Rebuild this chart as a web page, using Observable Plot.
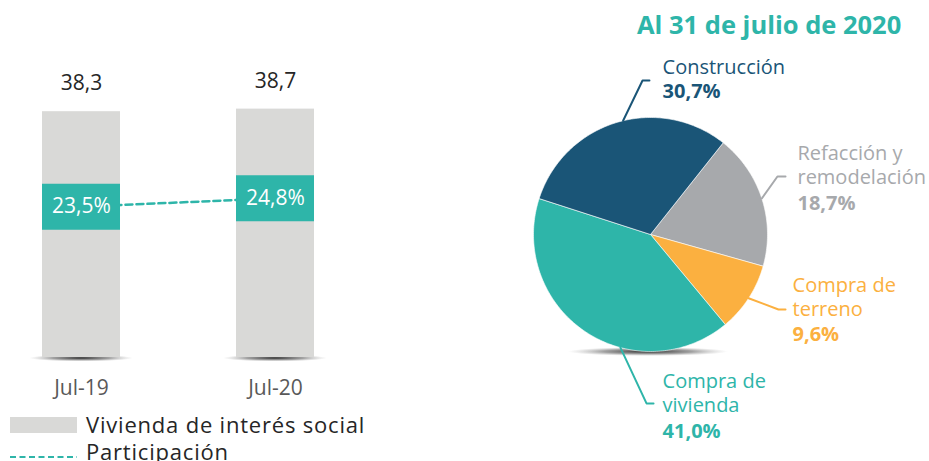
<!DOCTYPE html>
<html><head><meta charset="utf-8">
<script src="https://cdn.jsdelivr.net/npm/d3@7"></script>
<script src="https://cdn.jsdelivr.net/npm/@observablehq/plot@0.6"></script>
<style>
body{margin:0;background:#fff;font-family:"Open Sans",sans-serif;}
#wrap{position:relative;width:929px;height:461px;overflow:hidden;background:#fff;}
#left{position:absolute;left:0;top:0;}
#pie{position:absolute;left:500px;top:40px;}
#title{position:absolute;left:637px;top:9px;line-height:30px;font-size:25.5px;font-weight:700;color:#2eb5a9;white-space:nowrap;}
.leg{position:absolute;left:86px;font-size:22px;color:#262626;letter-spacing:0.8px;white-space:nowrap;line-height:30px;}
#sw1{position:absolute;left:10px;top:417px;width:67px;height:16px;background:#d9d9d7;}
#sw2{position:absolute;left:10px;top:452px;}
</style></head><body>
<div id="wrap">
  <div id="left"></div>
  <div id="sw1"></div>
  <div class="leg" style="top:409px">Vivienda de interés social</div>
  <svg id="sw2" width="70" height="10"><line x1="0" x2="67" y1="5" y2="5" stroke="#2eb5a9" stroke-width="2" stroke-dasharray="6,3.5"/></svg>
  <div class="leg" style="top:436px">Participación</div>
  <div id="title">Al 31 de julio de 2020</div>
  <div id="pie"></div>
</div>
<script>
// ---- data ----
const periods = ["Jul-19", "Jul-20"];
const totals = [38.3, 38.7];
const shares = [23.5, 24.8];
const totalLabels = ["38,3", "38,7"];
const shareLabels = ["23,5%", "24,8%"];

const pieNames = ["Refacción y\nremodelación", "Compra de\nterreno", "Compra de\nvivienda", "Construcción"];
const pieValues = [18.7, 9.6, 41.0, 30.7];
const pieLabels = ["18,7%", "9,6%", "41,0%", "30,7%"];
const pieColors = ["#a7a9ac", "#fbb040", "#2eb5a9", "#1a5577"];

const teal = "#2eb5a9";

// ---- shadow helper (render-function mark using Plot scales) ----
let gradCount = 0;
function shadowMark(getEllipses) {
  return (index, scales) => {
    const id = "shadowGrad" + (gradCount++);
    const g = d3.create("svg:g");
    const grad = g.append("defs").append("radialGradient").attr("id", id);
    grad.append("stop").attr("offset", "0%").attr("stop-color", "#222").attr("stop-opacity", 0.95);
    grad.append("stop").attr("offset", "55%").attr("stop-color", "#555").attr("stop-opacity", 0.55);
    grad.append("stop").attr("offset", "100%").attr("stop-color", "#999").attr("stop-opacity", 0);
    for (const e of getEllipses(scales)) {
      g.append("ellipse").attr("cx", e.cx).attr("cy", e.cy).attr("rx", e.rx).attr("ry", e.ry)
        .attr("fill", `url(#${id})`);
    }
    return g.node();
  };
}

// ---- left chart ----
const barData = periods.map((p, i) => ({p, total: totals[i], share: shares[i], tl: totalLabels[i], sl: shareLabels[i]}));

const left = Plot.plot({
  width: 370, height: 400,
  marginLeft: 3.2, marginRight: 17.2, marginTop: 4, marginBottom: 43,
  style: {color: "#595959", fontFamily: "Open Sans", background: "transparent", overflow: "visible"},
  x: {domain: periods, paddingInner: 0.598, paddingOuter: 0.2},
  y: {domain: [0, 55], axis: null},
  marks: [
    shadowMark(s => periods.map(p => ({
      cx: s.x(p) + (s.x.bandwidth ? s.x.bandwidth() / 2 : 39),
      cy: s.y(0) + 1, rx: 52, ry: 3.5
    }))),
    Plot.barY(barData, {x: "p", y: "total", fill: "#d9d9d7"}),
    Plot.line(barData, {x: "p", y: "share", stroke: teal, strokeWidth: 2.5, strokeDasharray: "7,4"}),
    Plot.tickY(barData, {x: "p", y: "share", stroke: teal, strokeWidth: 46}),
    Plot.text(barData, {x: "p", y: "share", text: "sl", fill: "white", fontSize: 21}),
    Plot.text(barData, {x: "p", y: "total", text: "tl", dy: -28, fill: "#262626", fontSize: 21}),
    Plot.axisX({tickSize: 0, tickPadding: 23, fontSize: 21, color: "#595959", label: null})
  ]
});
document.getElementById("left").appendChild(left);

// ---- pie chart ----
const startDeg = 38.4;
const pieTotal = d3.sum(pieValues);
let acc = startDeg;
const slices = pieValues.map((v, i) => {
  const a0 = acc, a1 = acc + v / pieTotal * 360;
  acc = a1;
  const pts = [{x: 0, y: 0}];
  const n = Math.max(2, Math.ceil(a1 - a0));
  for (let k = 0; k <= n; k++) {
    const a = (a0 + (a1 - a0) * k / n) * Math.PI / 180;
    pts.push({x: Math.sin(a), y: Math.cos(a)});
  }
  pts.push({x: 0, y: 0});
  return {i, a0, a1, pts};
});

// label layout (in pie-radius units)
const labelLayout = [
  {frac: 0.5,  elbow: [1.085, 0.496],   end: [1.154, 0.496],   tx: 1.256, nameY: 0.598,  pctY: 0.262},
  {frac: 0.5,  elbow: [1.094, -0.641],  end: [1.154, -0.641],  tx: 1.214, nameY: -0.526, pctY: -0.855},
  {frac: 0.37, elbow: [-0.034, -1.444], end: [0.026, -1.444],  tx: 0.103, nameY: -1.350, pctY: -1.684},
  {frac: 0.53, elbow: [-0.068, 1.316],  end: [-0.009, 1.316],  tx: 0.103, nameY: 1.436,  pctY: 1.222}
];

const pieMarks = [
  shadowMark(s => [{cx: s.x(0) - 2, cy: s.y(-1) + 0.5, rx: 80, ry: 4.5}])
];
slices.forEach((sl, i) => {
  pieMarks.push(Plot.line(sl.pts, {x: "x", y: "y", fill: pieColors[i], stroke: "white", strokeWidth: 0.6}));
});
slices.forEach((sl, i) => {
  const L = labelLayout[i];
  const a = (sl.a0 + (sl.a1 - sl.a0) * L.frac) * Math.PI / 180;
  const leader = [{x: Math.sin(a), y: Math.cos(a)}, {x: L.elbow[0], y: L.elbow[1]}, {x: L.end[0], y: L.end[1]}];
  pieMarks.push(Plot.line(leader, {x: "x", y: "y", stroke: pieColors[i], strokeWidth: 2}));
  pieMarks.push(Plot.text([pieNames[i]], {x: () => L.tx, y: () => L.nameY, text: d => d, textAnchor: "start",
    fill: pieColors[i], fontSize: 20, lineHeight: 1.2}));
  pieMarks.push(Plot.text([pieLabels[i]], {x: () => L.tx, y: () => L.pctY, text: d => d, textAnchor: "start",
    fill: pieColors[i], fontSize: 20, fontWeight: 700}));
});

const pie = Plot.plot({
  width: 429, height: 421,
  style: {fontFamily: "Open Sans", background: "transparent", overflow: "visible"},
  x: {domain: [-1, 1], range: [33, 267], axis: null},
  y: {domain: [-1, 1], range: [311, 77], axis: null},
  marks: pieMarks
});
document.getElementById("pie").appendChild(pie);
</script>
</body></html>
